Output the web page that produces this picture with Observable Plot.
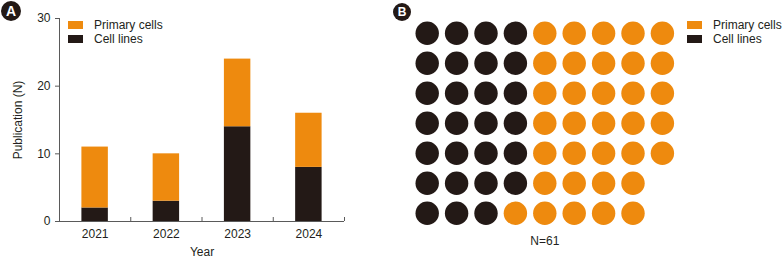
<!DOCTYPE html>
<html><head><meta charset="utf-8">
<script src="https://cdn.jsdelivr.net/npm/d3@7"></script>
<script src="https://cdn.jsdelivr.net/npm/@observablehq/plot@0.6"></script>
<style>
body{margin:0;background:#fff;font-family:"Liberation Sans",Arial,sans-serif;color:#231f20}
#wrap{position:relative;width:783px;height:258px;overflow:hidden;background:#fff}
.panel{position:absolute;top:0}
.tag{position:absolute;border-radius:50%;background:#231916;color:#fff;font-weight:bold;text-align:center;font-family:"Liberation Sans",Arial,sans-serif}
.sw{position:absolute;width:15px;height:8px}
.swl{position:absolute;font-size:12px;line-height:16px;white-space:nowrap;color:#231f20;font-family:"Liberation Sans",Arial,sans-serif}
</style></head><body><div id="wrap"></div>
<script>
const years = ["2021", "2022", "2023", "2024"];
const cellLines = [2, 3, 14, 8];
const primaryCells = [9, 7, 10, 8];
const seriesNames = ["Primary cells", "Cell lines"];
const seriesColors = ["#EE8A0E", "#231916"];
const yTicks = [0, 10, 20, 30];
// waffle: per row (top to bottom), count of cell-line dots then primary-cell dots
const waffleCellLines = [4, 4, 4, 4, 4, 4, 3];
const wafflePrimary = [5, 5, 5, 5, 5, 4, 5];

const font = '"Liberation Sans", Arial, sans-serif';
const ink = "#231f20";
const axisInk = "#5a5a5a";
const colorScale = {domain: seriesNames, range: seriesColors};
const wrap = document.getElementById("wrap");

// ---------- Panel A ----------
const rows = [];
years.forEach((y, i) => rows.push({i, year: y, type: "Cell lines", value: cellLines[i]}));
years.forEach((y, i) => rows.push({i, year: y, type: "Primary cells", value: primaryCells[i]}));

const A = Plot.plot({
  width: 380, height: 258,
  marginLeft: 59, marginRight: 36, marginTop: 18, marginBottom: 37,
  style: {fontFamily: font, fontSize: "12px", color: ink, background: "transparent", overflow: "visible"},
  x: {domain: [0, years.length], axis: null},
  y: {domain: [0, 30], axis: null},
  color: colorScale,
  marks: [
    Plot.rectY(rows, {x: "i", interval: 1, y: "value", fill: "type", insetLeft: 22.4, insetRight: 22.4}),
    Plot.axisY({ticks: yTicks, tickSize: 4, tickPadding: 5, stroke: axisInk, color: ink,
      label: "Publication (N)", labelAnchor: "center", labelArrow: "none", labelOffset: 46}),
    Plot.axisX({ticks: years.map((d, i) => i + 0.5), tickSize: 0, tickPadding: 8,
      tickFormat: v => years[Math.floor(v)], color: ink,
      label: "Year", labelAnchor: "center", labelArrow: "none", labelOffset: 34}),
    Plot.ruleX(d3.range(1, years.length + 1), {y1: 0, y2: 0, insetBottom: 4, stroke: axisInk}),
    Plot.ruleY([0], {stroke: axisInk, insetLeft: -3}),
    Plot.ruleX([0], {stroke: axisInk})
  ]
});
A.classList.add("panel");
A.style.left = "0px";
wrap.appendChild(A);

// ---------- Panel B ----------
const dots = [];
waffleCellLines.forEach((n, r) => {
  for (let c = 0; c < n; c++) dots.push({row: r, col: c, type: "Cell lines"});
  for (let c = 0; c < wafflePrimary[r]; c++) dots.push({row: r, col: n + c, type: "Primary cells"});
});
const total = dots.length;

const B = Plot.plot({
  width: 393, height: 258,
  marginLeft: 36.7, marginRight: 121.1, marginTop: 32.7, marginBottom: 45.3,
  style: {fontFamily: font, fontSize: "12px", color: ink, background: "transparent", overflow: "visible"},
  x: {domain: [0, 8], axis: null},
  y: {domain: [0, 6], reverse: true, axis: null},
  color: colorScale,
  marks: [
    Plot.dot(dots, {x: "col", y: "row", r: 11.7, fill: "type", stroke: null}),
    Plot.text([`N=${total}`], {text: d => d, frameAnchor: "bottom", dy: 32, fill: ink, fontSize: 12})
  ]
});
B.classList.add("panel");
B.style.left = "390px";
wrap.appendChild(B);

// ---------- Legends (HTML, colours from the plot's color scale) ----------
function addLegend(left, plot) {
  const scale = plot.scale("color");
  scale.domain.forEach((name, k) => {
    const sw = document.createElement("div");
    sw.className = "sw";
    sw.style.left = left + "px";
    sw.style.top = (21 + 14 * k) + "px";
    sw.style.background = scale.apply(name);
    wrap.appendChild(sw);
    const lab = document.createElement("div");
    lab.className = "swl";
    lab.style.left = (left + 26) + "px";
    lab.style.top = (21 + 14 * k - 4) + "px";
    lab.textContent = name;
    wrap.appendChild(lab);
  });
}
addLegend(68, A);
addLegend(687, B);

// ---------- Panel tags ----------
function addTag(label, cx, cy, r, fs) {
  const t = document.createElement("div");
  t.className = "tag";
  t.textContent = label;
  t.style.left = (cx - r) + "px";
  t.style.top = (cy - r) + "px";
  t.style.width = (2 * r) + "px";
  t.style.height = (2 * r) + "px";
  t.style.lineHeight = (2 * r) + "px";
  t.style.fontSize = fs + "px";
  wrap.appendChild(t);
}
addTag("A", 11, 11, 10, 14);
addTag("B", 402, 12, 9, 12);
</script></body></html>
